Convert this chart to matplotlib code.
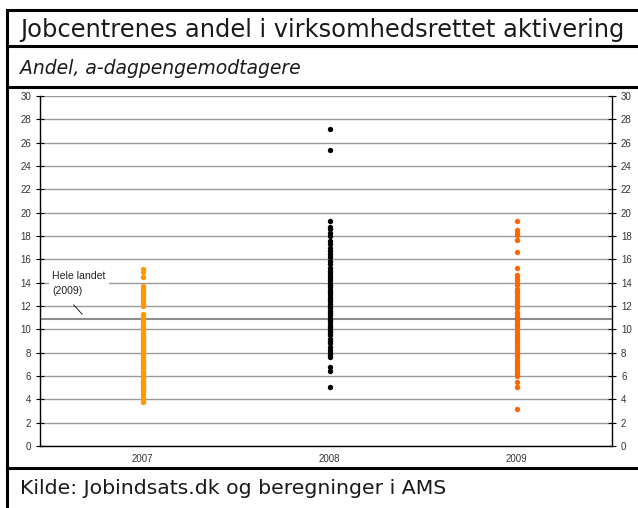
import matplotlib.pyplot as plt
from matplotlib.lines import Line2D

# Data (andel, a-dagpengemodtagere, pr. jobcenter)
years = ["2007", "2008", "2009"]
andel_2007 = [15.2, 14.9, 14.5, 13.7, 13.5, 13.4, 13.2, 13.0, 12.9, 12.7, 12.5,
              12.3, 12.2, 12.0, 11.3, 11.1, 10.9, 10.7, 10.6, 10.4, 10.2, 10.1,
              10.0, 9.8, 9.7, 9.5, 9.4, 9.3, 9.1, 9.0, 8.9, 8.7, 8.6, 8.5, 8.3,
              8.2, 8.0, 7.9, 7.8, 7.6, 7.5, 7.4, 7.2, 7.1, 7.0, 6.8, 6.7, 6.6,
              6.4, 6.3, 6.2, 6.0, 5.9, 5.8, 5.6, 5.5, 5.4, 5.2, 5.1, 5.0, 4.9,
              4.7, 4.5, 4.2, 4.0, 3.8]
andel_2008 = [27.2, 25.4, 19.3, 18.8, 18.6, 18.3, 18.0, 17.6, 17.3, 17.0, 16.7,
              16.5, 16.2, 15.9, 15.6, 15.3, 15.0, 14.8, 14.6, 14.4, 14.2, 14.0,
              13.8, 13.6, 13.4, 13.2, 13.0, 12.8, 12.6, 12.4, 12.2, 12.0, 11.8,
              11.6, 11.4, 11.2, 11.0, 10.8, 10.6, 10.4, 10.2, 10.0, 9.9, 9.7,
              9.5, 9.2, 9.0, 8.8, 8.5, 8.2, 8.0, 7.8, 7.6, 6.8, 6.4, 5.1]
andel_2009 = [19.3, 18.5, 18.3, 18.1, 17.7, 16.6, 15.3, 14.7, 14.4, 14.2, 14.0,
              13.8, 13.5, 13.3, 13.1, 12.9, 12.6, 12.4, 12.2, 12.0, 11.8, 11.5,
              11.3, 11.1, 10.9, 10.7, 10.5, 10.3, 10.0, 9.8, 9.6, 9.4, 9.2, 9.0,
              8.8, 8.6, 8.4, 8.2, 8.0, 7.8, 7.6, 7.4, 7.2, 7.0, 6.8, 6.6, 6.4,
              6.2, 6.0, 5.5, 5.1, 3.2]
hele_landet = 10.9

serier = [andel_2007, andel_2008, andel_2009]
farver = ["#FF9900", "#000000", "#FF6600"]

plt.rcParams["font.family"] = ["Liberation Sans", "DejaVu Sans"]

fig = plt.figure(figsize=(6.38, 5.08), dpi=100)
ax = fig.add_axes([40 / 638, 1 - 446 / 508, (612 - 40) / 638, (446 - 96) / 508])

for i, (vals, farve) in enumerate(zip(serier, farver)):
    ax.scatter([i + 1] * len(vals), vals, s=15, color=farve, zorder=3,
               linewidths=0)

# landsgennemsnit
ax.axhline(hele_landet, color="#8c8c8c", lw=1.5, zorder=2)
ax.text(0.515, 13.9, "Hele landet\n(2009)", fontsize=7.6, va="center", ha="left",
        linespacing=1.6, zorder=4, color="#222222",
        bbox=dict(facecolor="white", edgecolor="none", pad=2.5))
ax.plot([0.63, 0.675], [12.1, 11.3], color="black", lw=0.6, zorder=4)

ax.set_xlim(0.45, 3.51)
ax.set_ylim(0, 30)
ax.set_yticks(range(0, 31, 2))
ax.set_xticks([1, 2, 3])
ax.set_xticklabels(years)
ax.yaxis.grid(True, color="#999999", lw=1)
ax.set_axisbelow(True)
ax.tick_params(axis="y", direction="inout", length=6, width=0.8, labelsize=7,
               right=True, labelright=True, colors="black", labelcolor="#333333")
ax.tick_params(axis="x", length=0, labelsize=7, pad=6, labelcolor="#333333")
ax.spines["top"].set_visible(False)
for s in ["left", "right", "bottom"]:
    ax.spines[s].set_linewidth(1.0)

# ramme og tekster
for y in [1 - 10 / 508, 1 - 46 / 508, 1 - 87 / 508, 1 - 468 / 508]:
    fig.add_artist(Line2D([7 / 638, 1], [y, y], color="black", lw=2.2,
                          transform=fig.transFigure))
fig.add_artist(Line2D([7 / 638, 7 / 638], [0, 1 - 10 / 508], color="black",
                      lw=2.2, transform=fig.transFigure))

fig.text(20 / 638, 1 - 30 / 508, "Jobcentrenes andel i virksomhedsrettet aktivering",
         fontsize=17.4, va="center", ha="left", family="DejaVu Sans",
         color="#1a1a1a")
fig.text(20 / 638, 1 - 69 / 508, "Andel, a-dagpengemodtagere", fontsize=13.5,
         style="italic", va="center", ha="left", family="DejaVu Sans",
         color="#1a1a1a")
fig.text(20 / 638, 1 - 489 / 508, "Kilde: Jobindsats.dk og beregninger i AMS",
         fontsize=14.7, va="center", ha="left", family="DejaVu Sans",
         color="#1a1a1a")

fig.savefig("out.png", dpi=100)
